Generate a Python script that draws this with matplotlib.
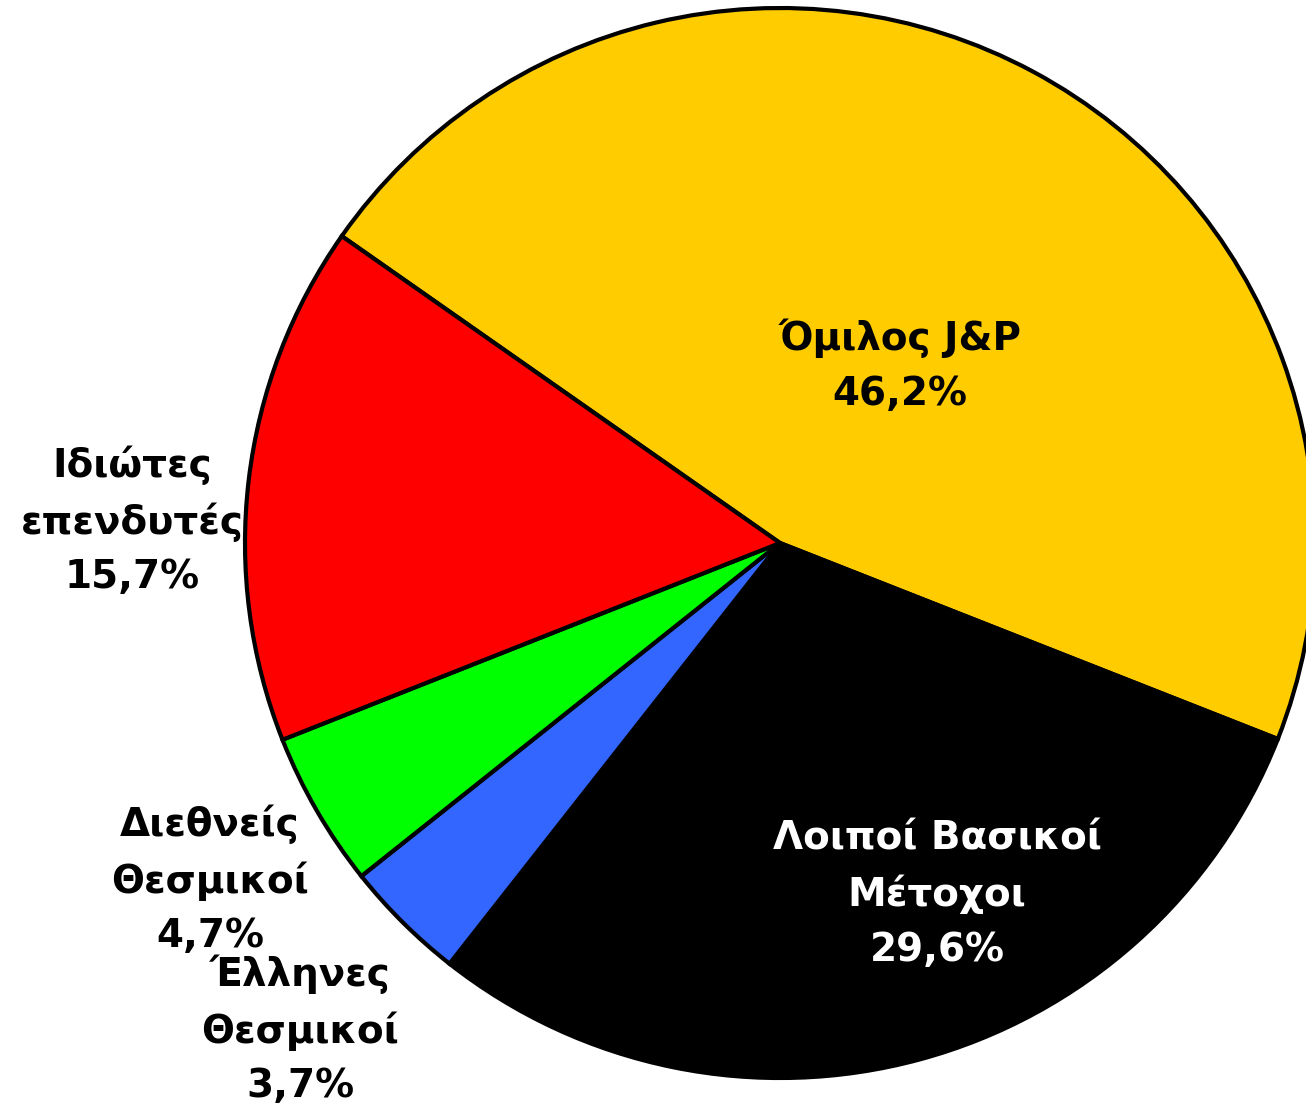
import matplotlib
matplotlib.use('Agg')
import matplotlib.pyplot as plt

# shareholder structure (%), drawn clockwise from the yellow slice
labels = ['Όμιλος J&P', 'Λοιποί Βασικοί\nΜέτοχοι', 'Έλληνες\nΘεσμικοί',
          'Διεθνείς\nΘεσμικοί', 'Ιδιώτες\nεπενδυτές']
shares = [46.2, 29.6, 3.7, 4.7, 15.7]
pct_text = ['46,2%', '29,6%', '3,7%', '4,7%', '15,7%']
colors = ['#FFCC00', '#000000', '#3366FF', '#00FF00', '#FF0000']
text_colors = ['black', 'white', 'black', 'black', 'black']

# label centres in pixel coords (x, y from top)
label_pos = [(900, 366), (937, 894), (300, 1030), (210, 880), (132, 521)]

W, H = 1306, 1109
fig = plt.figure(figsize=(W / 100, H / 100), dpi=100)
ax = fig.add_axes([0, 0, 1, 1])
ax.set_xlim(0, W)
ax.set_ylim(0, H)
ax.set_aspect('equal')
ax.axis('off')

ax.pie(shares, colors=colors, startangle=145, counterclock=False,
       center=(780, H - 543), radius=535,
       wedgeprops=dict(edgecolor='black', linewidth=3))
ax.set_xlim(0, W)
ax.set_ylim(0, H)

for lab, pct, (x, y), tc in zip(labels, pct_text, label_pos, text_colors):
    ax.text(x, H - y, lab + '\n' + pct, ha='center', va='center',
            fontsize=28, fontweight='bold', color=tc, linespacing=1.55,
            family='DejaVu Sans')

fig.savefig('out.png', dpi=100)
